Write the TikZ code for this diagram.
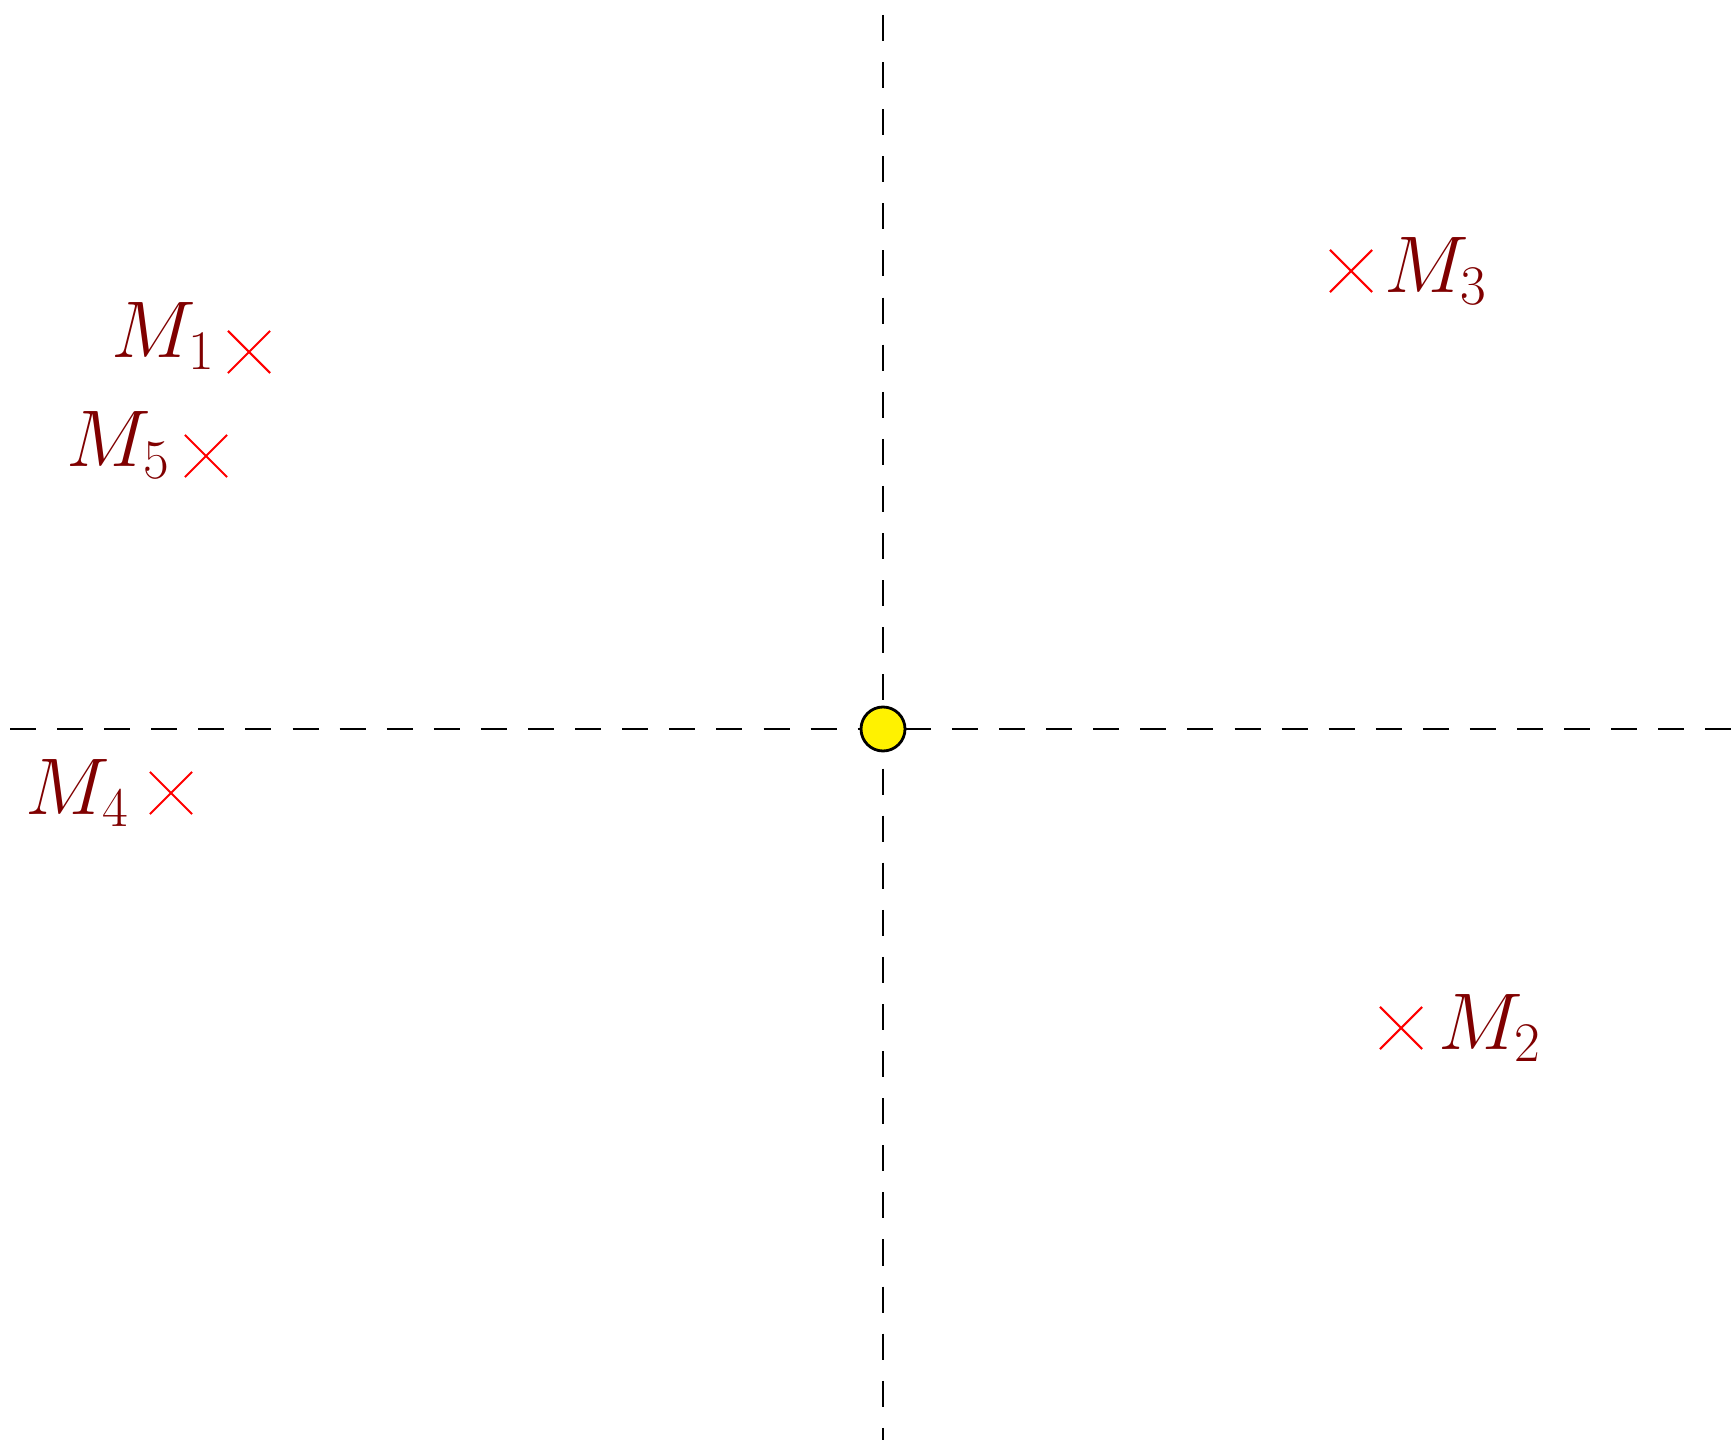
\documentclass[tikz,border=0pt]{standalone}
\usepackage{amsmath,amssymb}
\usepackage{xcolor}
\usepackage{tikz}
\usetikzlibrary{shapes,positioning}

\begin{document}
\begin{tikzpicture}[
    axis/.style={draw, line width=0.75pt, dash pattern=on 7.4pt off 6pt},
    sun/.style={circle, draw, fill=yellow, line width=0.8pt, minimum size=0.44cm, inner sep=0pt},
    mass/.style={cross out, draw=red, line width=0.6pt, minimum size=0.4cm, inner sep=0pt},
    mlabel/.style={inner sep=0pt, scale=0.92, text=red!50!black, font=\fontsize{23.5}{28}\selectfont}
]
    \useasboundingbox (0,0) rectangle (17.33,14.40);

    % Axes
    \coordinate (top) at (8.83,14.25);
    \coordinate (bottom) at (8.83,0);
    \coordinate (left) at (0.10,7.11);
    \coordinate (right) at (17.33,7.11);
    \path [axis] (top) -- (bottom);
    \path [axis] (left) -- (right);

    % Centre
    \node [sun] (origin) at (8.83,7.11) {};

    % Masses
    \node [mass] (m1) at (2.49,10.88) {};
    \node [mass] (m2) at (14.01,4.12) {};
    \node [mass] (m3) at (13.51,11.69) {};
    \node [mass] (m4) at (1.71,6.47) {};
    \node [mass] (m5) at (2.06,9.84) {};

    \node [mlabel, left=0.12cm of m1, yshift=0.17cm] (l1) {$M_1$};
    \node [mlabel, right=0.16cm of m2] (l2) {$M_2$};
    \node [mlabel, right=0.12cm of m3] (l3) {$M_3$};
    \node [mlabel, left=0.20cm of m4] (l4) {$M_4$};
    \node [mlabel, left=0.14cm of m5, yshift=0.12cm] (l5) {$M_5$};

\end{tikzpicture}
\end{document}
